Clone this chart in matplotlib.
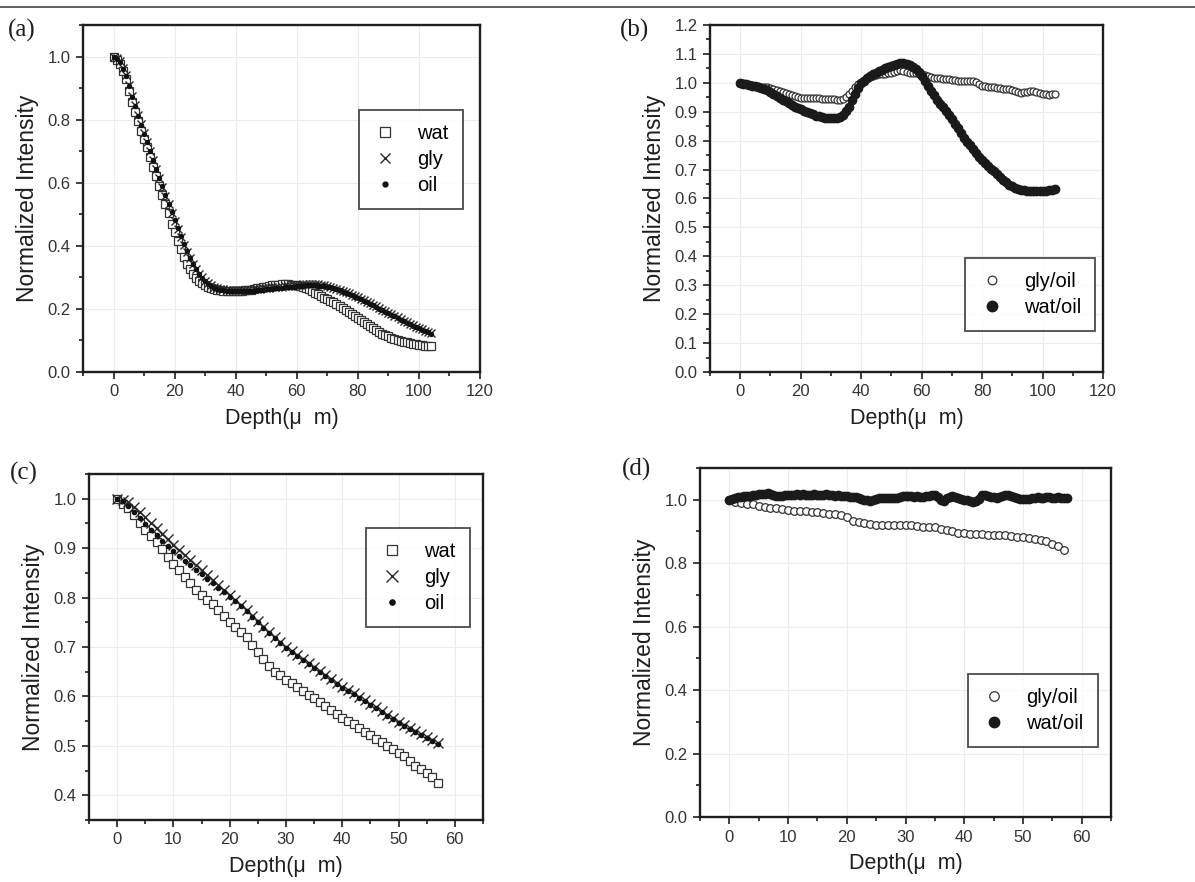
import numpy as np
import matplotlib
matplotlib.use('Agg')
import matplotlib.pyplot as plt
from matplotlib.ticker import MultipleLocator
from matplotlib.lines import Line2D

# ---- panel (a): depth 0..104 um, step 1
depth_a = np.arange(0, 105, 1)
wat_a = [1.00, 0.99, 0.975, 0.955, 0.93, 0.89, 0.857, 0.825, 0.795, 0.765,
         0.74, 0.712, 0.68, 0.65, 0.62, 0.59, 0.562, 0.532, 0.505, 0.47,
         0.443, 0.415, 0.39, 0.365, 0.342, 0.325, 0.31, 0.298, 0.288, 0.281,
         0.275, 0.269, 0.265, 0.262, 0.26, 0.259, 0.258, 0.258, 0.257, 0.257,
         0.257, 0.257, 0.258, 0.259, 0.26, 0.261, 0.263, 0.265, 0.267, 0.269,
         0.271, 0.273, 0.275, 0.276, 0.277, 0.278, 0.278, 0.278, 0.277, 0.276,
         0.275, 0.273, 0.27, 0.266, 0.262, 0.257, 0.252, 0.247, 0.241, 0.236,
         0.231, 0.226, 0.221, 0.215, 0.209, 0.203, 0.197, 0.19, 0.184, 0.178,
         0.171, 0.165, 0.158, 0.151, 0.145, 0.139, 0.133, 0.128, 0.122, 0.118,
         0.113, 0.109, 0.105, 0.102, 0.099, 0.096, 0.094, 0.092, 0.09, 0.088,
         0.086, 0.085, 0.083, 0.082, 0.081]
gly_a = [1.0, 0.995, 0.985, 0.965, 0.94, 0.91, 0.875, 0.845, 0.815, 0.785,
         0.757, 0.73, 0.70, 0.672, 0.644, 0.615, 0.587, 0.559, 0.532, 0.505,
         0.478, 0.452, 0.427, 0.403, 0.38, 0.36, 0.342, 0.326, 0.312, 0.30,
         0.29, 0.282, 0.276, 0.271, 0.267, 0.264, 0.262, 0.261, 0.26, 0.26,
         0.26, 0.26, 0.26, 0.26, 0.261, 0.261, 0.262, 0.263, 0.264, 0.265,
         0.266, 0.267, 0.268, 0.269, 0.27, 0.271, 0.272, 0.273, 0.274, 0.275,
         0.276, 0.277, 0.278, 0.279, 0.279, 0.279, 0.279, 0.278, 0.277, 0.275,
         0.273, 0.27, 0.267, 0.264, 0.261, 0.257, 0.253, 0.249, 0.245, 0.241,
         0.237, 0.232, 0.228, 0.223, 0.218, 0.213, 0.208, 0.203, 0.198, 0.193,
         0.188, 0.183, 0.178, 0.173, 0.168, 0.163, 0.158, 0.153, 0.148, 0.144,
         0.139, 0.135, 0.131, 0.127, 0.123]
oil_a = [1.0, 0.993, 0.982, 0.962, 0.937, 0.907, 0.873, 0.843, 0.813, 0.784,
         0.756, 0.729, 0.70, 0.672, 0.644, 0.616, 0.589, 0.561, 0.534, 0.507,
         0.481, 0.455, 0.43, 0.406, 0.383, 0.362, 0.343, 0.326, 0.311, 0.298,
         0.287, 0.279, 0.272, 0.267, 0.264, 0.261, 0.259, 0.258, 0.257, 0.257,
         0.257, 0.257, 0.257, 0.257, 0.257, 0.258, 0.258, 0.259, 0.26, 0.261,
         0.262, 0.263, 0.264, 0.265, 0.266, 0.267, 0.268, 0.269, 0.27, 0.271,
         0.272, 0.273, 0.274, 0.275, 0.275, 0.275, 0.275, 0.274, 0.273, 0.272,
         0.27, 0.268, 0.265, 0.262, 0.259, 0.255, 0.251, 0.247, 0.243, 0.239,
         0.235, 0.23, 0.226, 0.221, 0.216, 0.211, 0.206, 0.201, 0.196, 0.191,
         0.186, 0.181, 0.176, 0.171, 0.166, 0.161, 0.156, 0.151, 0.147, 0.142,
         0.138, 0.134, 0.13, 0.126, 0.122]

# ---- panel (b): depth 0..104 um, step 1
depth_b = np.arange(0, 105, 1)
glyoil_b = [1.0, 0.998, 0.996, 0.994, 0.992, 0.99, 0.989, 0.987, 0.986, 0.984,
            0.982, 0.979, 0.976, 0.972, 0.968, 0.964, 0.96, 0.957, 0.954, 0.951,
            0.949, 0.948, 0.948, 0.947, 0.947, 0.946, 0.946, 0.945, 0.945, 0.945,
            0.944, 0.944, 0.942, 0.94, 0.943, 0.951, 0.962, 0.972, 0.984, 0.995,
            1.004, 1.01, 1.016, 1.021, 1.025, 1.028, 1.03, 1.031, 1.032, 1.033,
            1.034, 1.036, 1.04, 1.043, 1.041, 1.037, 1.035, 1.034, 1.033, 1.032,
            1.03, 1.028, 1.024, 1.02, 1.018, 1.016, 1.015, 1.014, 1.013, 1.012,
            1.011, 1.009, 1.007, 1.006, 1.005, 1.005, 1.006, 1.008, 1.004, 0.996,
            0.99, 0.988, 0.987, 0.985, 0.984, 0.983, 0.981, 0.98, 0.979, 0.978,
            0.976, 0.972, 0.968, 0.966, 0.967, 0.969, 0.971, 0.972, 0.968, 0.964,
            0.961, 0.96, 0.959, 0.96, 0.962]
watoil_b = [1.0, 0.997, 0.995, 0.993, 0.99, 0.988, 0.985, 0.982, 0.978, 0.974,
            0.969, 0.962, 0.955, 0.948, 0.942, 0.936, 0.93, 0.924, 0.918, 0.913,
            0.908, 0.903, 0.899, 0.895, 0.891, 0.887, 0.884, 0.882, 0.88, 0.879,
            0.879, 0.879, 0.88, 0.882, 0.89, 0.903, 0.918, 0.94, 0.962, 0.983,
            0.999, 1.008, 1.015, 1.022, 1.029, 1.035, 1.041, 1.046, 1.05, 1.054,
            1.058, 1.062, 1.065, 1.068, 1.068, 1.066, 1.062, 1.056, 1.047, 1.036,
            1.022, 1.006, 0.99, 0.973, 0.957, 0.942, 0.928, 0.915, 0.902, 0.889,
            0.874, 0.858, 0.843, 0.825, 0.81, 0.797, 0.784, 0.771, 0.758, 0.745,
            0.733, 0.722, 0.711, 0.702, 0.694, 0.685, 0.675, 0.665, 0.656, 0.648,
            0.642, 0.637, 0.633, 0.629, 0.628, 0.627, 0.627, 0.627, 0.626, 0.626,
            0.625, 0.627, 0.629, 0.631, 0.634]

# ---- panel (c): depth 0..57 um, step 1
depth_c = np.arange(0, 58, 1)
wat_c = [1.0, 0.99, 0.982, 0.968, 0.95, 0.936, 0.924, 0.912, 0.898, 0.882,
         0.868, 0.855, 0.842, 0.829, 0.816, 0.805, 0.796, 0.787, 0.775, 0.762,
         0.75, 0.74, 0.731, 0.72, 0.704, 0.69, 0.675, 0.662, 0.65, 0.643,
         0.634, 0.627, 0.619, 0.611, 0.603, 0.596, 0.588, 0.58, 0.573, 0.565,
         0.557, 0.55, 0.545, 0.536, 0.528, 0.521, 0.514, 0.507, 0.5, 0.493,
         0.485, 0.479, 0.469, 0.46, 0.454, 0.446, 0.437, 0.425]
gly_c = [1.0, 0.998, 0.993, 0.984, 0.973, 0.962, 0.951, 0.94, 0.929, 0.918,
         0.907, 0.897, 0.886, 0.876, 0.866, 0.856, 0.846, 0.836, 0.826, 0.816,
         0.806, 0.796, 0.785, 0.774, 0.763, 0.752, 0.741, 0.73, 0.72, 0.71,
         0.70, 0.692, 0.684, 0.676, 0.668, 0.66, 0.652, 0.644, 0.636, 0.628,
         0.62, 0.613, 0.606, 0.599, 0.592, 0.585, 0.578, 0.57, 0.563, 0.556,
         0.549, 0.543, 0.536, 0.53, 0.524, 0.518, 0.512, 0.506]
oil_c = [1.0, 0.995, 0.985, 0.973, 0.96, 0.948, 0.937, 0.926, 0.915, 0.905,
         0.895, 0.885, 0.875, 0.866, 0.856, 0.847, 0.838, 0.829, 0.82, 0.811,
         0.802, 0.793, 0.783, 0.772, 0.761, 0.75, 0.739, 0.728, 0.718, 0.708,
         0.698, 0.69, 0.682, 0.674, 0.666, 0.658, 0.65, 0.642, 0.634, 0.626,
         0.618, 0.611, 0.604, 0.597, 0.59, 0.583, 0.576, 0.568, 0.561, 0.554,
         0.547, 0.541, 0.534, 0.528, 0.522, 0.516, 0.51, 0.504]

# ---- panel (d)
depth_d1 = np.arange(0, 58, 1)
glyoil_d = [1.0, 0.993, 0.99, 0.988, 0.986, 0.981, 0.978, 0.975, 0.973, 0.97,
            0.968, 0.966, 0.965, 0.963, 0.962, 0.96, 0.957, 0.955, 0.955, 0.952,
            0.944, 0.934, 0.929, 0.926, 0.924, 0.921, 0.92, 0.919, 0.919, 0.92,
            0.921, 0.921, 0.917, 0.915, 0.913, 0.913, 0.908, 0.904, 0.9, 0.896,
            0.894, 0.893, 0.892, 0.891, 0.89, 0.889, 0.889, 0.888, 0.887, 0.884,
            0.881, 0.878, 0.876, 0.874, 0.869, 0.862, 0.853, 0.843]
depth_d2 = np.arange(0, 58, 0.5)
watoil_d = [1.0, 1.003, 1.006, 1.008, 1.01, 1.011, 1.012, 1.013, 1.014, 1.015,
            1.017, 1.018, 1.019, 1.02, 1.018, 1.015, 1.012, 1.011, 1.013, 1.014,
            1.015, 1.016, 1.016, 1.017, 1.016, 1.017, 1.016, 1.015, 1.016, 1.017,
            1.016, 1.015, 1.016, 1.017, 1.015, 1.014, 1.013, 1.014, 1.013, 1.012,
            1.011, 1.01, 1.009, 1.008, 1.006, 1.003, 1.0, 0.998, 0.997, 0.999,
            1.002, 1.004, 1.006, 1.005, 1.006, 1.005, 1.004, 1.006, 1.008, 1.011,
            1.013, 1.012, 1.011, 1.01, 1.011, 1.009, 1.01, 1.011, 1.013, 1.016,
            1.014, 1.008, 1.0, 0.997, 1.004, 1.01, 1.012, 1.008, 1.004, 1.002,
            1.0, 0.998, 0.996, 0.994, 0.995, 1.003, 1.015, 1.016, 1.013, 1.01,
            1.008, 1.006, 1.008, 1.012, 1.014, 1.015, 1.012, 1.01, 1.006, 1.003,
            1.002, 1.001, 1.003, 1.005, 1.007, 1.008, 1.006, 1.007, 1.009, 1.008,
            1.006, 1.007, 1.008, 1.007, 1.006, 1.006]

ink = '#1e1e1e'
plt.rcParams['font.family'] = ['Liberation Sans', 'DejaVu Sans']

W, H = 1195, 882
fig = plt.figure(figsize=(W / 100, H / 100), dpi=100)

def rect(l, r, t, b):
    return [l / W, 1 - b / H, (r - l) / W, (b - t) / H]

def style(ax, xlim, ylim, xmaj, xmin, ymaj, ymin, yfmt):
    ax.set_xlim(*xlim)
    ax.set_ylim(*ylim)
    ax.xaxis.set_major_locator(MultipleLocator(xmaj))
    ax.xaxis.set_minor_locator(MultipleLocator(xmin))
    ax.yaxis.set_major_locator(MultipleLocator(ymaj))
    ax.yaxis.set_minor_locator(MultipleLocator(ymin))
    ax.yaxis.set_major_formatter(yfmt)
    ax.grid(True, which='major', color='#ececec', lw=0.8)
    ax.set_axisbelow(True)
    for s in ax.spines.values():
        s.set_linewidth(1.7)
        s.set_color(ink)
    ax.tick_params(which='both', direction='out', width=1.2, color=ink,
                   labelsize=12, labelcolor='#333333', top=False, right=False)
    ax.tick_params(which='major', length=5, pad=4)
    ax.tick_params(which='minor', length=3)
    ax.set_xlabel('Depth(\u03bc  m)', fontsize=15.5, color=ink, labelpad=6)
    ax.set_ylabel('Normalized Intensity', fontsize=16.5, color=ink, labelpad=6)

def leg(ax, loc, anchor):
    lg = ax.legend(loc=loc, bbox_to_anchor=anchor, fontsize=14.5, frameon=True,
                   fancybox=False, edgecolor=ink, handletextpad=1.0,
                   borderpad=0.7, labelspacing=0.35, handlelength=1.2,
                   borderaxespad=0, markerscale=1.25)
    lg.get_frame().set_linewidth(1.3)

# (a)
ax = fig.add_axes(rect(83, 480, 25, 372))
ax.plot(depth_a, wat_a, 's', ms=5.5, mfc='white', mec='#333333', mew=0.9, ls='none', label='wat')
ax.plot(depth_a, gly_a, 'x', ms=6, color='#2a2a2a', mew=1.0, ls='none', label='gly')
ax.plot(depth_a, oil_a, 'o', ms=2.8, color='#111111', ls='none', label='oil')
style(ax, (-10, 120), (0, 1.1), 20, 10, 0.2, 0.1, '{x:.1f}')
leg(ax, 'upper right', (0.957, 0.755))

# (b)
ax = fig.add_axes(rect(710, 1103, 25, 372))
ax.plot(depth_b, glyoil_b, 'o', ms=5, mfc='white', mec='#333333', mew=0.9, ls='none', label='gly/oil')
ax.plot(depth_b, watoil_b, 'o', ms=6, color='#1a1a1a', ls='none', label='wat/oil')
style(ax, (-10, 120), (0, 1.2), 20, 10, 0.1, 0.05, '{x:.1f}')
leg(ax, 'lower right', (0.98, 0.118))

# (c)
ax = fig.add_axes(rect(89, 483, 474, 820))
ax.plot(depth_c, wat_c, 's', ms=5.5, mfc='white', mec='#333333', mew=0.9, ls='none', label='wat')
ax.plot(depth_c, gly_c, 'x', ms=7, color='#2a2a2a', mew=1.0, ls='none', label='gly')
ax.plot(depth_c, oil_c, 'o', ms=3, color='#111111', ls='none', label='oil')
style(ax, (-5, 65), (0.35, 1.05), 10, 5, 0.1, 0.05, '{x:.1f}')
leg(ax, 'upper right', (0.967, 0.844))

# (d)
ax = fig.add_axes(rect(700, 1111, 468, 817))
ax.plot(depth_d1, glyoil_d, 'o', ms=5.5, mfc='white', mec='#333333', mew=0.9, ls='none', label='gly/oil')
ax.plot(depth_d2, watoil_d, 'o', ms=6, color='#1a1a1a', ls='none', label='wat/oil')
style(ax, (-5, 65), (0, 1.1), 10, 5, 0.2, 0.1, '{x:.1f}')
leg(ax, 'lower right', (0.968, 0.2))

# panel letters and the rule across the top
for lab, x, y in [('(a)', 8, 19), ('(b)', 620, 19), ('(c)', 10, 462), ('(d)', 622, 458)]:
    fig.text(x / W, 1 - y / H, lab, family=['Liberation Serif', 'DejaVu Serif'],
             fontsize=18, va='top', ha='left', color=ink)
fig.add_artist(Line2D([0, 1], [1 - 7 / H, 1 - 7 / H], color='#444444', lw=1.2))

fig.savefig('out.png', dpi=100)
